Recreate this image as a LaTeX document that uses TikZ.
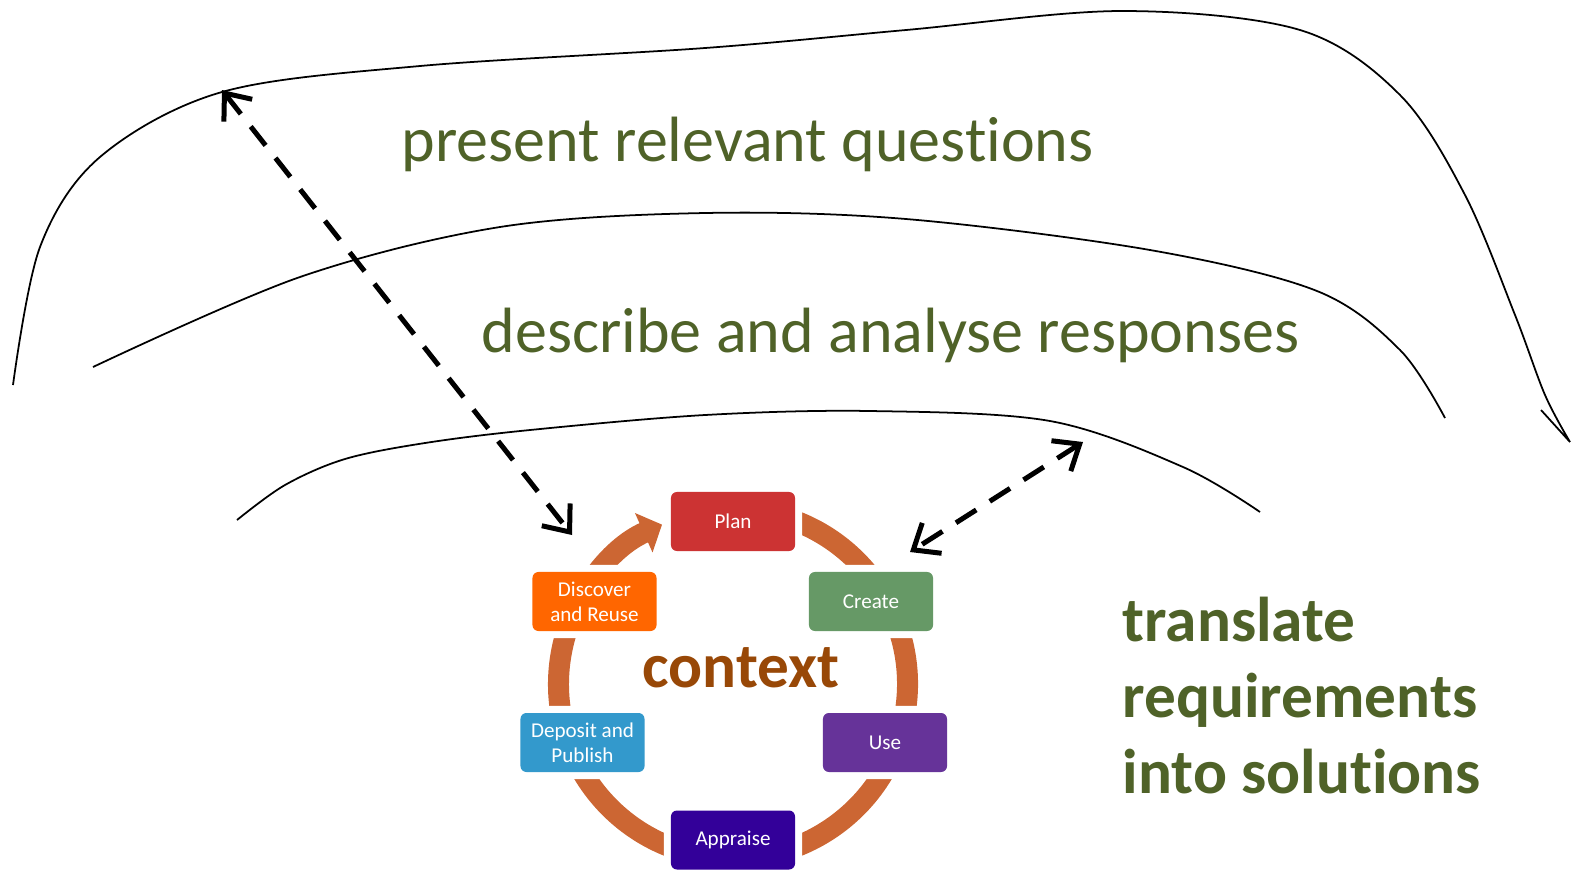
\documentclass[tikz,border=0pt]{standalone}
\usepackage{fontspec}
\setmainfont{Carlito}[Ligatures=NoCommon]
\usetikzlibrary{arrows.meta}
\definecolor{leafgreen}{HTML}{4F6228}
\definecolor{rust}{HTML}{984807}
\definecolor{ringc}{HTML}{CC6633}
\definecolor{planc}{HTML}{CC3333}
\definecolor{createc}{HTML}{669966}
\definecolor{usec}{HTML}{663399}
\definecolor{appraisec}{HTML}{330099}
\definecolor{depositc}{HTML}{3399CC}
\definecolor{discoverc}{HTML}{FF6600}
\tikzset{
  stage/.style={rounded corners=0.06cm, minimum width=1.24cm, minimum height=0.59cm,
    inner sep=0pt, align=center, text=white, font=\fontsize{6}{7}\selectfont,
    preaction={draw=white, line width=0.14cm}},
  layer/.style={line width=0.5pt},
  reach/.style={line width=0.05cm, dash pattern=on 0.24cm off 0.16cm,
    {Straight Barb[length=0.22cm,width=0.36cm]}-{Straight Barb[length=0.22cm,width=0.36cm]}},
  theme/.style={text=leafgreen, font=\fontsize{18.2}{21.8}\selectfont, anchor=base west, inner sep=0pt}
}

\begin{document}
\begin{tikzpicture}[x=0.01cm, y=-0.01cm]
  \useasboundingbox (0,0) rectangle (1579,869);
  \draw[layer] plot[smooth, tension=0.55] coordinates {(13,385) (40,247) (100,157) (222,92) (420,66) (705,48) (906,30) (1122,11) (1300,30) (1400,95) (1465,195) (1515,315) (1545,395) (1570,442)} -- (1541,410);
  \draw[layer] plot[smooth, tension=0.55] coordinates {(93,367) (300,277) (500,227) (705,213) (906,219) (1150,250) (1317,291) (1400,350) (1445,418)};
  \draw[layer] plot[smooth, tension=0.55] coordinates {(237,520) (285,485) (345,459) (425,443) (530,430) (705,415) (870,411) (1050,421) (1183,467) (1260,512)};
  \node[theme] (questions) at (401,161) {present relevant questions};
  \node[theme] (responses) at (481,352) {describe and analyse responses};
  \node[theme, font=\fontsize{18}{21.6}\selectfont\bfseries, align=left] (translate) at (1122,793) {translate\\requirements\\into solutions};
  \draw[ringc, line width=0.21cm, -{Triangle[length=0.2cm,width=0.42cm]}] (733,684) ++(-80:174.5) arc[start angle=-80, end angle=246, radius=174.5];
  \node[stage, fill=planc] (plan) at (733,521.5) {Plan};
  \node[stage, fill=createc] (create) at (871,601.5) {Create};
  \node[stage, fill=usec] (use) at (885,742.5) {Use};
  \node[stage, fill=appraisec] (appraise) at (733,840) {Appraise};
  \node[stage, fill=depositc] (deposit) at (582.5,742.5) {Deposit and\\Publish};
  \node[stage, fill=discoverc] (discover) at (594.5,601.5) {Discover\\and Reuse};
  \node[text=rust, font=\fontsize{18}{21.6}\selectfont\bfseries, anchor=base, inner sep=0pt] (context) at (741,687) {context};
  \coordinate (outerpt) at (222,90);
  \coordinate (cyclept) at (572,535);
  \coordinate (innerpt) at (1083,442);
  \coordinate (creatept) at (910,552);
  \draw[reach] (outerpt) -- (cyclept);
  \draw[reach] (innerpt) -- (creatept);
\end{tikzpicture}
\end{document}
